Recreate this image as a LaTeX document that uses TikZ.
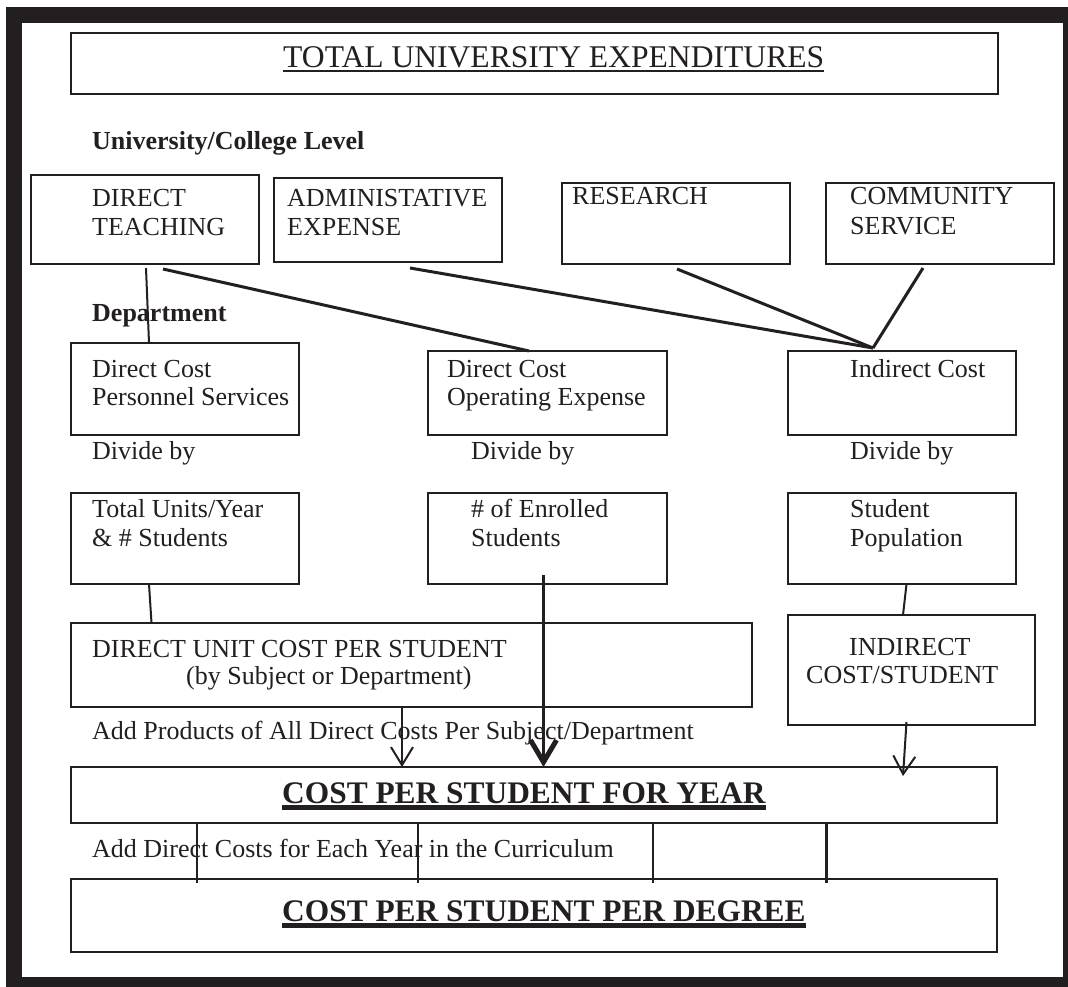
\documentclass[tikz,border=0pt]{standalone}
\usepackage{fontspec}
\setmainfont{Liberation Serif}
\usepackage{xcolor}
\usepackage{tikz}
\usetikzlibrary{arrows.meta}

\definecolor{ink}{HTML}{231F20}

\begin{document}
\begin{tikzpicture}[x=1pt, y=-1pt,
    box/.style={draw=ink, line width=2.6pt, inner sep=0pt, outer sep=0pt, anchor=north west},
    txt/.style={anchor=base west, inner sep=0pt, text=ink, font=\fontsize{26}{30}\selectfont},
    labtxt/.style={txt, font=\fontsize{26}{30}\selectfont\bfseries},
    bigtxt/.style={txt, font=\fontsize{31.6}{36}\selectfont},
    boldtxt/.style={txt, font=\fontsize{31.4}{36}\selectfont\bfseries},
    conn/.style={draw=ink, line width=2pt},
    slant/.style={draw=ink, line width=3pt},
    thinarrow/.style={conn, -{Straight Barb[length=18pt, width=22pt]}},
    boldarrow/.style={draw=ink, line width=3pt, -{Straight Barb[length=22pt, width=26pt, line width=5pt]}}]

    % Frame
    \useasboundingbox (0,0) rectangle (1068,987);
    \fill[white] (0,0) rectangle (1068,987);
    \fill[ink] (6,7) rectangle (1068,987);
    \fill[white] (22,23) rectangle (1063,977);

    % Top box
    \node[box, minimum width=927pt, minimum height=61pt] (total) at (71,33) {};
    \node[bigtxt] (totaltxt) at (283,68) {TOTAL UNIVERSITY EXPENDITURES};
    \draw[ink, line width=2pt] ([yshift=-3pt]totaltxt.base west) -- ([yshift=-3pt]totaltxt.base east);

    % University/College level
    \node[labtxt] (unilevel) at (92,150) {University/College Level};
    \node[box, minimum width=228pt, minimum height=89pt] (teach) at (31,175) {};
    \node[box, minimum width=228pt, minimum height=84pt] (admin) at (274,178) {};
    \node[box, minimum width=228pt, minimum height=81pt] (research) at (562,183) {};
    \node[box, minimum width=228pt, minimum height=81pt] (community) at (826,183) {};
    \node[txt] (teach1) at (92,207) {DIRECT};
    \node[txt] (teach2) at (92,236) {TEACHING};
    \node[txt] (admin1) at (287,207) {ADMINISTATIVE};
    \node[txt] (admin2) at (287,236) {EXPENSE};
    \node[txt] (research1) at (572,205) {RESEARCH};
    \node[txt] (community1) at (850,205) {COMMUNITY};
    \node[txt] (community2) at (850,235) {SERVICE};

    % Department level
    \node[labtxt] (dept) at (92,321) {Department};
    \node[box, minimum width=228pt, minimum height=92pt] (personnel) at (71,343) {};
    \node[box, minimum width=239pt, minimum height=84pt] (operating) at (428,351) {};
    \node[box, minimum width=228pt, minimum height=84pt] (indirect) at (788,351) {};
    \node[txt] (personnel1) at (92,377) {Direct Cost};
    \node[txt] (personnel2) at (92,405) {Personnel Services};
    \node[txt] (operating1) at (447,377) {Direct Cost};
    \node[txt] (operating2) at (447,405) {Operating Expense};
    \node[txt] (indirect1) at (850,377) {Indirect Cost};

    \node[txt] (divide1) at (92,459) {Divide by};
    \node[txt] (divide2) at (471,459) {Divide by};
    \node[txt] (divide3) at (850,459) {Divide by};

    \node[box, minimum width=228pt, minimum height=91pt] (units) at (71,493) {};
    \node[box, minimum width=239pt, minimum height=91pt] (enrolled) at (428,493) {};
    \node[box, minimum width=228pt, minimum height=91pt] (population) at (788,493) {};
    \node[txt] (units1) at (92,517) {Total Units/Year};
    \node[txt] (units2) at (92,546) {\& \# Students};
    \node[txt] (enrolled1) at (471,517) {\# of Enrolled};
    \node[txt] (enrolled2) at (471,546) {Students};
    \node[txt] (population1) at (850,517) {Student};
    \node[txt] (population2) at (850,546) {Population};

    \node[box, minimum width=681pt, minimum height=84pt] (unitcost) at (71,623) {};
    \node[box, minimum width=247pt, minimum height=110pt] (indstudent) at (788,615) {};
    \node[txt] (unitcost1) at (92,657) {DIRECT UNIT COST PER STUDENT};
    \node[txt] (unitcost2) at (186,684) {(by Subject or Department)};
    \node[txt] (indstudent1) at (849,655) {INDIRECT};
    \node[txt] (indstudent2) at (806,683) {COST/STUDENT};

    % Totals
    \node[txt] (addproducts) at (92,739) {Add Products of All Direct Costs Per Subject/Department};
    \node[box, minimum width=926pt, minimum height=56pt] (year) at (71,767) {};
    \node[boldtxt] (yeartxt) at (282,803) {COST PER STUDENT FOR YEAR};
    \draw[ink, line width=4.5pt] ([yshift=-4.5pt]yeartxt.base west) -- ([yshift=-4.5pt]yeartxt.base east);
    \node[txt] (adddirect) at (92,857) {Add Direct Costs for Each Year in the Curriculum};
    \node[box, minimum width=926pt, minimum height=73pt] (degree) at (71,879) {};
    \node[boldtxt] (degreetxt) at (282,921) {COST PER STUDENT PER DEGREE};
    \draw[ink, line width=4.5pt] ([yshift=-4.5pt]degreetxt.base west) -- ([yshift=-4.5pt]degreetxt.base east);

    % Connectors
    \draw[conn] ([shift={(115,4)}]teach.south west) -- ([shift={(78,0)}]personnel.north west);
    \draw[slant] ([shift={(132,5)}]teach.south west) -- ([shift={(101,0)}]operating.north west);
    \draw[slant] ([shift={(136,6)}]admin.south west) -- ([shift={(85,-3)}]indirect.north west);
    \draw[slant] ([shift={(115,5)}]research.south west) -- ([shift={(85,-3)}]indirect.north west);
    \draw[slant] ([shift={(97,4)}]community.south west) -- ([shift={(85,-3)}]indirect.north west);
    \draw[conn] ([shift={(78,0)}]units.south west) -- ([shift={(80.5,0)}]unitcost.north west);
    \draw[conn] ([shift={(118.5,0)}]population.south west) -- ([shift={(115,0)}]indstudent.north west);

    % Arrows
    \draw[boldarrow] ([shift={(115.5,-9)}]enrolled.south west) -- ([shift={(472.5,0)}]year.north west);
    \draw[thinarrow] ([shift={(331,0)}]unitcost.south west) -- ([shift={(331,0)}]year.north west);
    \draw[thinarrow] ([shift={(118.5,-3)}]indstudent.south west) -- ([shift={(832,9)}]year.north west);

    % Year ticks
    \foreach \dx in {126,347,582,755.5}
        \draw[draw=ink, line width=2.4pt] ([shift={(\dx,0)}]year.south west) -- ([shift={(\dx,4)}]degree.north west);
\end{tikzpicture}
\end{document}
